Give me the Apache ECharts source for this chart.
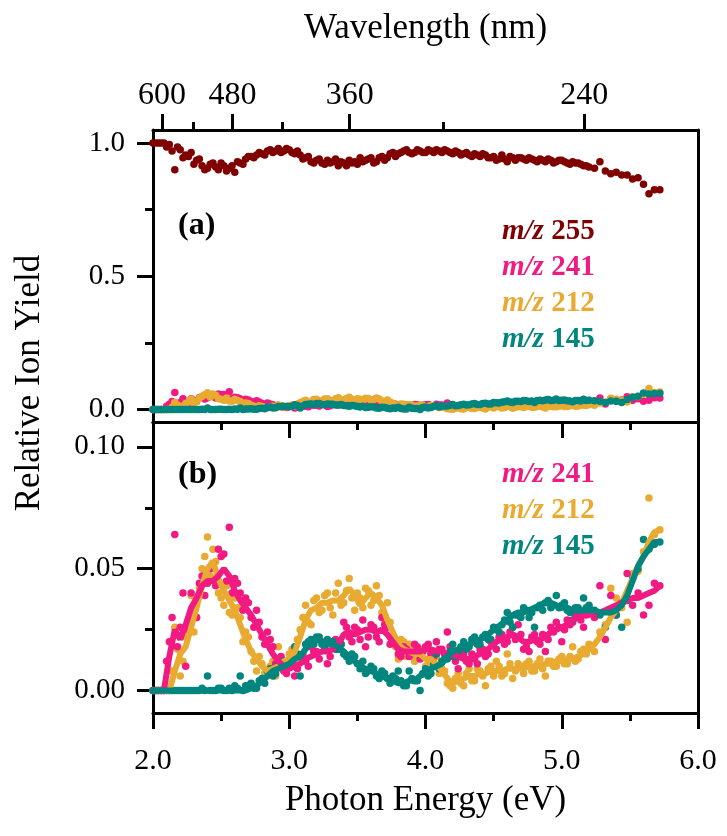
<!DOCTYPE html>
<html>
<head>
<meta charset="utf-8">
<script src="https://cdn.jsdelivr.net/npm/echarts@6/dist/echarts.min.js"></script>
<style>html,body{margin:0;padding:0;background:#fff}#c{width:727px;height:836px}</style>
</head>
<body>
<div id="c"></div>
<script>
// ---------- data ----------
// main energy grid (eV)
const energy = [
2.00,2.04,2.08,2.12,2.16,2.20,2.24,2.28,2.32,2.36,
2.40,2.44,2.48,2.52,2.56,2.60,2.64,2.68,2.72,2.76,
2.80,2.84,2.88,2.92,2.96,3.00,3.04,3.08,3.12,3.16,
3.20,3.24,3.28,3.32,3.36,3.40,3.44,3.48,3.52,3.56,
3.60,3.64,3.68,3.72,3.76,3.80,3.84,3.88,3.92,3.96,
4.00,4.04,4.08,4.12,4.16,4.20,4.24,4.28,4.32,4.36,
4.40,4.44,4.48,4.52,4.56,4.60,4.64,4.68,4.72,4.76,
4.80,4.84,4.88,4.92,4.96,5.00,5.04,5.08,5.12,5.16,
5.20,5.24,5.28,5.32,5.36,5.40,5.44,5.48,5.52,5.56,
5.60,5.64,5.68,5.72];

// interleaved energies of the denser part of the scan (eV)
const energyMid = [
2.02,2.06,2.10,2.14,2.18,2.22,2.26,2.30,2.34,2.38,
2.42,2.46,2.50,2.54,2.58,2.62,2.66,2.70,2.74,2.78,
2.82,2.86,2.90,2.94,2.98,3.02,3.06,3.10,3.14,3.18,
3.22,3.26,3.30,3.34,3.38,3.42,3.46,3.50,3.54,3.58,
3.62,3.66,3.70,3.74,3.78,3.82,3.86,3.90,3.94,3.98,
4.02,4.06,4.10,4.14,4.18,4.22,4.26,4.30,4.34,4.38,
4.42,4.46,4.50,4.54,4.58,4.62,4.66,4.70,4.74,4.78,
4.82,4.86,4.90,4.94,4.98,5.02,5.06,5.10,5.14,5.18];

const yield255 = [
1.000,1.000,1.000,0.995,0.900,0.975,0.955,0.965,0.935,0.915,
0.905,0.925,0.900,0.915,0.905,0.890,0.925,0.940,0.950,0.955,
0.960,0.970,0.965,0.980,0.970,0.975,0.960,0.955,0.945,0.930,
0.935,0.925,0.935,0.930,0.915,0.925,0.935,0.930,0.945,0.935,
0.945,0.930,0.950,0.945,0.965,0.960,0.970,0.965,0.965,0.970,
0.965,0.970,0.975,0.965,0.970,0.960,0.965,0.960,0.955,0.960,
0.950,0.955,0.945,0.935,0.955,0.930,0.945,0.945,0.940,0.945,
0.935,0.940,0.930,0.935,0.930,0.935,0.925,0.930,0.925,0.915,
0.910,0.905,0.930,0.895,0.885,0.890,0.880,0.880,0.865,0.870,
0.845,0.810,0.825,0.825];

const yield255Mid = [
1.000,1.000,0.985,0.970,0.985,0.945,0.950,0.920,0.940,0.900,
0.920,0.910,0.925,0.895,0.915,0.930,0.920,0.950,0.945,0.965,
0.955,0.975,0.970,0.965,0.980,0.965,0.970,0.940,0.950,0.925,
0.940,0.920,0.925,0.940,0.930,0.915,0.925,0.920,0.930,0.940,
0.925,0.945,0.935,0.960,0.950,0.965,0.975,0.960,0.975,0.965,
0.975,0.965,0.970,0.975,0.965,0.970,0.955,0.965,0.950,0.955,
0.960,0.945,0.950,0.940,0.940,0.950,0.935,0.945,0.935,0.940,
0.930,0.935,0.940,0.925,0.935,0.930,0.920,0.925,0.920,0.915];

const yield241 = [
0,0,0,0.020,0.064,0.026,0.010,0.040,0.030,0.047,
0.044,0.052,0.058,0.056,0.067,0.046,0.040,0.038,0.030,0.033,
0.022,0.024,0.018,0.013,0.008,0.011,0.006,0.014,0.012,0.018,
0.016,0.020,0.011,0.019,0.017,0.028,0.022,0.026,0.021,0.018,
0.027,0.022,0.030,0.026,0.022,0.015,0.018,0.014,0.019,0.013,
0.018,0.015,0.020,0.017,0.024,0.014,0.009,0.015,0.011,0.013,
0.017,0.014,0.020,0.017,0.023,0.020,0.026,0.027,0.017,0.016,
0.023,0.019,0.016,0.026,0.028,0.020,0.029,0.028,0.032,0.026,
0.034,0.030,0.043,0.021,0.039,0.031,0.036,0.048,0.035,0.040,
0.031,0.035,0.044,0.043];

const yield241Mid = [
0,0,0.012,0.030,0.018,0.040,0.025,0.034,0.044,0.039,
0.050,0.043,0.055,0.045,0.040,0.044,0.033,0.036,0.026,0.028,
0.019,0.021,0.011,0.014,0.007,0.012,0.009,0.015,0.010,0.016,
0.013,0.018,0.014,0.021,0.019,0.026,0.020,0.025,0.029,0.022,
0.026,0.020,0.027,0.019,0.020,0.014,0.017,0.015,0.018,0.016,
0.019,0.014,0.017,0.015,0.018,0.012,0.016,0.012,0.015,0.011,
0.017,0.015,0.019,0.022,0.019,0.024,0.021,0.023,0.018,0.022,
0.020,0.023,0.021,0.024,0.026,0.025,0.027,0.031,0.029,0.031];

const fit241 = [
0,0,0,0.014,0.025,0.021,0.027,0.034,0.038,0.043,
0.045,0.045,0.047,0.050,0.047,0.041,0.037,0.034,0.031,0.027,
0.023,0.019,0.015,0.012,0.010,0.009,0.010,0.011,0.013,0.014,
0.015,0.016,0.016,0.017,0.019,0.023,0.024,0.023,0.024,0.025,
0.025,0.024,0.025,0.023,0.020,0.017,0.016,0.016,0.016,0.016,
0.017,0.017,0.016,0.016,0.015,0.015,0.014,0.013,0.013,0.014,
0.015,0.016,0.018,0.020,0.021,0.022,0.023,0.022,0.020,0.020,
0.021,0.021,0.022,0.024,0.025,0.026,0.027,0.029,0.030,0.031,
0.031,0.032,0.032,0.033,0.034,0.035,0.036,0.037,0.038,0.038,
0.039,0.040,0.041,0.043];

const yield212 = [
0,0,0,0,0.026,0.006,0.022,0.039,0.030,0.050,
0.063,0.058,0.040,0.035,0.032,0.038,0.030,0.024,0.016,0.008,
0.011,0.006,0.012,0.018,0.009,0.015,0.013,0.025,0.035,0.027,
0.038,0.033,0.040,0.031,0.044,0.036,0.046,0.033,0.038,0.042,
0.035,0.043,0.032,0.036,0.022,0.013,0.020,0.019,0.012,0.017,
0.010,0.015,0.014,0.009,0.003,0.001,0.007,0.002,0.009,0.004,
0.008,0.002,0.010,0.012,0.006,0.015,0.005,0.011,0.007,0.012,
0.008,0.013,0.006,0.012,0.010,0.014,0.011,0.018,0.013,0.017,
0.019,0.016,0.024,0.027,0.042,0.038,0.034,0.028,0.048,0.049,
0.057,0.079,0.064,0.066];

const yield212Mid = [
0,0,0,0.008,0.017,0.012,0.028,0.024,0.042,0.055,
0.047,0.053,0.038,0.043,0.031,0.034,0.020,0.022,0.012,0.014,
0.007,0.010,0.006,0.013,0.010,0.017,0.021,0.030,0.028,0.037,
0.032,0.039,0.034,0.040,0.035,0.041,0.038,0.040,0.034,0.041,
0.037,0.039,0.029,0.028,0.018,0.021,0.014,0.017,0.013,0.016,
0.011,0.014,0.007,0.008,0.002,0.005,0.003,0.007,0.004,0.009,
0.006,0.009,0.006,0.010,0.007,0.011,0.008,0.010,0.011,0.008,
0.011,0.009,0.012,0.010,0.013,0.011,0.014,0.012,0.016,0.015];

const fit212 = [
0,0,0,0,0.008,0.015,0.018,0.026,0.034,0.043,
0.050,0.053,0.046,0.041,0.037,0.033,0.027,0.021,0.016,0.013,
0.010,0.008,0.009,0.010,0.012,0.013,0.016,0.022,0.029,0.033,
0.034,0.036,0.036,0.037,0.037,0.039,0.042,0.039,0.035,0.038,
0.040,0.038,0.035,0.029,0.024,0.019,0.017,0.016,0.015,0.015,
0.013,0.013,0.011,0.008,0.005,0.003,0.004,0.005,0.006,0.006,
0.007,0.007,0.008,0.008,0.008,0.009,0.009,0.009,0.009,0.010,
0.010,0.010,0.011,0.011,0.012,0.012,0.013,0.013,0.014,0.015,
0.017,0.019,0.022,0.026,0.030,0.033,0.036,0.041,0.046,0.051,
0.055,0.061,0.065,0.066];

const yield145 = [
0,0,0,0,0,0,0,0,0,0.001,
0.006,0,0.001,0,0.001,0.002,0.006,0.002,0.003,0.001,
0.005,0.008,0.006,0.011,0.012,0.010,0.018,0.006,0.019,0.021,
0.022,0.019,0.021,0.020,0.017,0.015,0.012,0.014,0.009,0.007,
0.010,0.006,0.008,0.005,0.006,0.008,0.002,0.008,0.004,0.000,
0.009,0.007,0.015,0.012,0.013,0.019,0.015,0.020,0.018,0.022,
0.019,0.023,0.021,0.025,0.027,0.032,0.026,0.031,0.034,0.030,
0.026,0.035,0.036,0.034,0.039,0.035,0.033,0.029,0.034,0.038,
0.035,0.033,0.031,0.026,0.032,0.031,0.026,0.037,0.046,0.050,
0.062,0.058,0.060,0.061];

const yield145Mid = [
0,0,0,0,0,0,0,0,0,0,
0,0,0.001,0,0,0.001,0,0.002,0.001,0.004,
0.003,0.009,0.007,0.010,0.011,0.012,0.015,0.013,0.020,0.019,
0.022,0.018,0.020,0.017,0.019,0.014,0.015,0.011,0.012,0.008,
0.009,0.005,0.007,0.003,0.005,0.004,0.002,0.005,0.004,0.007,
0.006,0.011,0.009,0.013,0.016,0.014,0.018,0.017,0.021,0.019,
0.022,0.021,0.026,0.024,0.029,0.028,0.031,0.030,0.033,0.032,
0.034,0.033,0.037,0.035,0.034,0.036,0.032,0.034,0.032,0.034];

const fit145 = [
0,0,0,0,0,0,0,0,0,0,
0,0,0,0,0,0,0,0,0.001,0.002,
0.004,0.006,0.008,0.009,0.010,0.011,0.013,0.014,0.017,0.020,
0.021,0.020,0.019,0.019,0.018,0.016,0.014,0.012,0.010,0.009,
0.008,0.007,0.006,0.005,0.004,0.003,0.003,0.004,0.004,0.006,
0.007,0.009,0.010,0.011,0.014,0.016,0.017,0.018,0.019,0.020,
0.021,0.022,0.024,0.026,0.027,0.029,0.031,0.032,0.032,0.033,
0.034,0.035,0.036,0.036,0.035,0.034,0.034,0.033,0.033,0.033,
0.033,0.033,0.032,0.032,0.032,0.033,0.035,0.039,0.045,0.051,
0.055,0.058,0.061,0.061];

// axis ticks / labels
const energyTicks = [2, 3, 4, 5, 6];
const wavelengthMajor = [600, 480, 360, 240];
const wavelengthMinor = [540, 420, 300];
const yTopMajor = [0, 0.5, 1.0];
const yTopMinor = [0.25, 0.75];
const yBotMajor = [0, 0.05, 0.10];
const yBotMinor = [0.025, 0.075];
const HC = 1239.84; // eV*nm

const names = { s255: 'm/z 255', s241: 'm/z 241', s212: 'm/z 212', s145: 'm/z 145' };
const colors = { s255: '#800000', s241: '#f01a82', s212: '#e8aa30', s145: '#00857f' };

// ---------- chart ----------
const FONT = 'Liberation Serif';
const pairs = (xs, ys) => xs.map((e, i) => [e, ys[i]]);
const both = (ys, ysMid) => pairs(energy, ys).concat(pairs(energyMid, ysMid)).sort((a, b) => a[0] - b[0]);
const axLine = { show: true, onZero: false, lineStyle: { color: '#000', width: 3 } };
const noLine = { show: false, onZero: false };
const tickStyle = { width: 3, color: '#000' };

const chart = echarts.init(document.getElementById('c'), null, { renderer: 'canvas' });

const G0 = { left: 153, width: 545, top: 130, height: 292 };
const G1 = { left: 153, width: 545, top: 422, height: 291 };
const rTop = { min: -0.047, max: 1.049 };
const rBot = { min: -0.0092, max: 0.1102 };

function yMajor(grid, r, vals, dec) {
  return {
    type: 'value', gridIndex: grid, position: 'left', min: r.min, max: r.max,
    axisLine: axLine, splitLine: { show: false },
    axisTick: { show: true, inside: false, length: 16, lineStyle: tickStyle, customValues: vals },
    axisLabel: { show: true, customValues: vals, margin: 28, color: '#000', fontFamily: FONT, fontSize: 29,
      formatter: v => Number(v).toFixed(dec) }
  };
}
function yMinor(grid, r, vals) {
  return {
    type: 'value', gridIndex: grid, position: 'left', min: r.min, max: r.max,
    axisLine: noLine, splitLine: { show: false }, axisLabel: { show: false },
    axisTick: { show: true, length: 8, lineStyle: tickStyle, customValues: vals }
  };
}
function yRight(grid, r) {
  return {
    type: 'value', gridIndex: grid, position: 'right', min: r.min, max: r.max,
    axisLine: axLine, splitLine: { show: false }, axisLabel: { show: false }, axisTick: { show: false }
  };
}

const option = {
  animation: false,
  backgroundColor: '#fff',
  grid: [G0, G1],
  xAxis: [
    { // 0: top panel bottom (divider ticks)
      type: 'value', gridIndex: 0, position: 'bottom', min: 2, max: 6, interval: 1,
      axisLine: axLine, splitLine: { show: false }, axisLabel: { show: false },
      axisTick: { show: true, length: 16, lineStyle: tickStyle },
      minorTick: { show: true, splitNumber: 2, length: 8, lineStyle: tickStyle }
    },
    { // 1: wavelength major
      type: 'value', gridIndex: 0, position: 'top', min: 2, max: 6,
      axisLine: axLine, splitLine: { show: false },
      axisTick: { show: true, length: 16, lineStyle: tickStyle,
        customValues: wavelengthMajor.map(w => HC / w) },
      axisLabel: { show: true, customValues: wavelengthMajor.map(w => HC / w), margin: 18,
        color: '#000', fontFamily: FONT, fontSize: 32, formatter: v => String(Math.round(HC / v)) },
      name: 'Wavelength (nm)', nameLocation: 'middle', nameGap: 84,
      nameTextStyle: { color: '#000', fontFamily: FONT, fontSize: 35 }
    },
    { // 2: wavelength minor
      type: 'value', gridIndex: 0, position: 'top', min: 2, max: 6,
      axisLine: noLine, splitLine: { show: false }, axisLabel: { show: false },
      axisTick: { show: true, length: 8, lineStyle: tickStyle,
        customValues: wavelengthMinor.map(w => HC / w) }
    },
    { // 3: photon energy
      type: 'value', gridIndex: 1, position: 'bottom', min: 2, max: 6, interval: 1,
      axisLine: axLine, splitLine: { show: false },
      axisTick: { show: true, length: 16, lineStyle: tickStyle },
      minorTick: { show: true, splitNumber: 2, length: 8, lineStyle: tickStyle },
      axisLabel: { show: true, margin: 33, color: '#000', fontFamily: FONT, fontSize: 30,
        customValues: energyTicks, formatter: v => Number(v).toFixed(1) },
      name: 'Photon Energy (eV)', nameLocation: 'middle', nameGap: 70,
      nameTextStyle: { color: '#000', fontFamily: FONT, fontSize: 35 }
    },
    { // 4: bottom panel top line
      type: 'value', gridIndex: 1, position: 'top', min: 2, max: 6,
      axisLine: axLine, splitLine: { show: false }, axisLabel: { show: false }, axisTick: { show: false }
    }
  ],
  yAxis: [
    yMajor(0, rTop, yTopMajor, 1),
    yMinor(0, rTop, yTopMinor),
    yRight(0, rTop),
    yMajor(1, rBot, yBotMajor, 2),
    yMinor(1, rBot, yBotMinor),
    yRight(1, rBot)
  ],
  series: [],
  graphic: []
};

const dot = (name, key, data, xi, yi, z) => ({
  type: 'scatter', name: name, xAxisIndex: xi, yAxisIndex: yi, data: data,
  symbol: 'circle', symbolSize: 7.5, itemStyle: { color: colors[key], opacity: 1 }, z: z, silent: true
});
const fitLine = (name, key, ys, z) => ({
  type: 'line', name: name, xAxisIndex: 3, yAxisIndex: 3, data: pairs(energy, ys),
  showSymbol: false, smooth: false, lineStyle: { color: colors[key], width: 6 }, z: z, silent: true
});

option.series.push(
  dot(names.s255, 's255', both(yield255, yield255Mid), 0, 0, 2),
  dot(names.s241, 's241', both(yield241, yield241Mid), 0, 0, 3),
  dot(names.s212, 's212', both(yield212, yield212Mid), 0, 0, 4),
  dot(names.s145, 's145', both(yield145, yield145Mid), 0, 0, 5),
  dot(names.s212, 's212', both(yield212, yield212Mid), 3, 3, 2),
  dot(names.s241, 's241', both(yield241, yield241Mid), 3, 3, 3),
  dot(names.s145, 's145', both(yield145, yield145Mid), 3, 3, 4),
  fitLine(names.s212, 's212', fit212, 6),
  fitLine(names.s241, 's241', fit241, 7),
  fitLine(names.s145, 's145', fit145, 8)
);

function legendText(key, x, y) {
  const parts = names[key].split(' ');
  return {
    type: 'text', x: x, y: y, z: 20,
    style: {
      text: '{i|' + parts[0] + '} {n|' + parts[1] + '}',
      verticalAlign: 'middle', align: 'left',
      rich: {
        i: { fontFamily: FONT, fontSize: 29, fontWeight: 'bold', fontStyle: 'italic', fill: colors[key] },
        n: { fontFamily: FONT, fontSize: 29, fontWeight: 'bold', fill: colors[key] }
      },
      fontFamily: FONT, fontSize: 29, fill: colors[key]
    }
  };
}

option.graphic.push(
  { type: 'text', x: 30, y: 383, rotation: Math.PI / 2, z: 20,
    style: { text: 'Relative Ion Yield', fontFamily: FONT, fontSize: 35, fill: '#000', align: 'center', verticalAlign: 'middle' } },
  { type: 'text', x: 178, y: 226, z: 20,
    style: { text: '(a)', fontFamily: FONT, fontSize: 32, fontWeight: 'bold', fill: '#000', align: 'left', verticalAlign: 'middle' } },
  { type: 'text', x: 178, y: 475, z: 20,
    style: { text: '(b)', fontFamily: FONT, fontSize: 32, fontWeight: 'bold', fill: '#000', align: 'left', verticalAlign: 'middle' } },
  legendText('s255', 502, 232),
  legendText('s241', 502, 268),
  legendText('s212', 502, 304),
  legendText('s145', 502, 340),
  legendText('s241', 502, 475),
  legendText('s212', 502, 511),
  legendText('s145', 502, 547)
);

chart.setOption(option);
</script>
</body>
</html>
